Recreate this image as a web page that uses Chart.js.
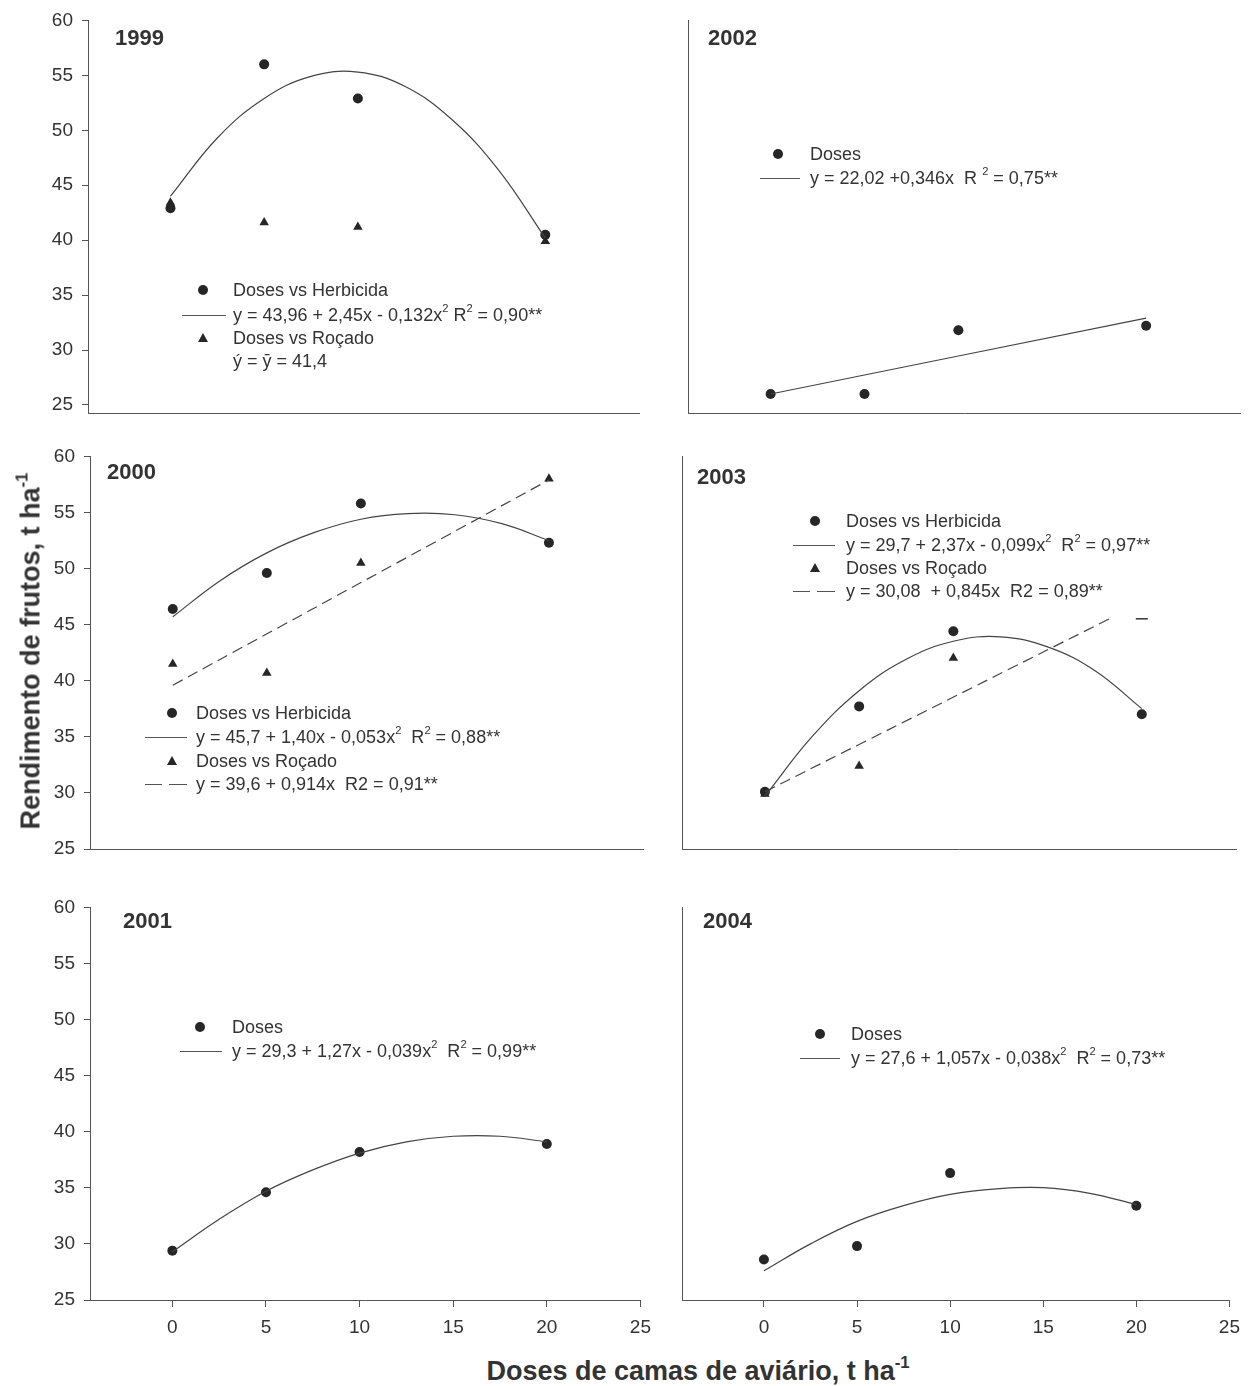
<!DOCTYPE html>
<html>
<head>
<meta charset="utf-8">
<script src="https://cdn.jsdelivr.net/npm/chart.js@4.4.0/dist/chart.umd.min.js"></script>
<style>
body{margin:0;background:#fff;width:1249px;height:1386px;position:relative;overflow:hidden;font-family:"Liberation Sans",Arial,sans-serif;color:#333}
.pan{position:absolute}
.t{position:absolute;font-size:18px;white-space:nowrap;line-height:1;transform:translateY(-50%)}
.yr{position:absolute;font-size:22px;font-weight:bold;white-space:nowrap;line-height:1;transform:translateY(-50%);color:#333}
sup{font-size:62%;vertical-align:top;position:relative;top:-3px}
.dot{position:absolute;width:10px;height:10px;border-radius:50%;background:#262626;transform:translate(-50%,-50%)}
.tri{position:absolute;width:0;height:0;border-left:5px solid transparent;border-right:5px solid transparent;border-bottom:9px solid #262626;transform:translate(-50%,-55%)}
.ln{position:absolute;height:0;border-top:1px solid #555}
.ax{position:absolute;font-weight:bold;font-size:27px;white-space:nowrap;line-height:1;color:#333}
</style>
</head>
<body>
<div id="wrap"></div>
<div class="ax" style="left:31px;top:651px;transform:translate(-50%,-50%) rotate(-90deg)">Rendimento de frutos, t ha<sup>-1</sup></div>
<div class="ax" style="left:698px;top:1371px;transform:translate(-50%,-50%)">Doses de camas de aviário, t ha<sup>-1</sup></div>
<script>
// eixos
var xTicks = [0, 5, 10, 15, 20, 25];
var yTicks = [25, 30, 35, 40, 45, 50, 55, 60];
var doses = [0, 5, 10, 20];
var fitX = [0, 2.5, 5, 7.5, 10, 12.5, 15, 17.5, 20];

// 1999
var herb1999 = [42.9, 56.0, 52.9, 40.5];
var roc1999 = [43.4, 41.6, 41.2, 39.9];
var fitHerb1999 = [44.0, 49.3, 52.9, 54.9, 55.3, 54.0, 51.0, 46.4, 40.2];
// 2000
var herb2000 = [46.4, 49.6, 55.8, 52.3];
var roc2000 = [41.5, 40.7, 50.5, 58.0];
var fitHerb2000 = [45.7, 48.9, 51.4, 53.2, 54.4, 54.9, 54.8, 54.0, 52.5];
var fitRocX2000 = [0, 20];
var fitRoc2000 = [39.6, 57.9];
// 2001
var doses2001 = [29.4, 34.6, 38.2, 38.9];
var fit2001 = [29.3, 32.2, 34.7, 36.6, 38.1, 39.1, 39.6, 39.6, 39.1];
// 2002
var doses2002 = [26.0, 26.0, 31.8, 32.2];
var fitX2002 = [0, 20];
var fit2002 = [26.0, 32.9];
// 2003
var herb2003 = [30.1, 37.7, 44.4, 37.0];
var roc2003 = [29.9, 32.4, 42.0];
var fitHerb2003 = [29.7, 35.0, 39.1, 41.9, 43.5, 43.9, 43.0, 40.9, 37.5];
var fitRocX2003 = [0, 18.4];
var fitRoc2003 = [30.1, 45.6];
var dashX2003 = [20];
var dash2003 = [45.5];
// 2004
var doses2004 = [28.6, 29.8, 36.3, 33.4];
var fit2004 = [27.6, 30.0, 32.0, 33.4, 34.4, 34.9, 35.0, 34.5, 33.5];

function pts(xs, ys) {
  var out = [];
  for (var i = 0; i < ys.length; i++) out.push({x: xs[i], y: ys[i]});
  return out;
}
function dots(xs, ys) {
  return {data: pts(xs, ys), pointStyle: 'circle', pointRadius: 5, backgroundColor: '#262626', borderColor: '#262626', borderWidth: 0};
}
function tris(xs, ys) {
  return {data: pts(xs, ys), pointStyle: 'triangle', pointRadius: 5.5, backgroundColor: '#262626', borderColor: '#262626', borderWidth: 0};
}
function curve(xs, ys, dash) {
  return {data: pts(xs, ys), showLine: true, pointRadius: 0, borderColor: '#444', borderWidth: 1.2, tension: 0.4, borderDash: dash ? [11, 6] : []};
}

// top row: x axis sits a little below the 25 tick
var panels = [
  {year: '1999', yx: 115, yy: 38, left: 0, top: 0, w: 660, h: 445, axisX: 88, right: 639, y60: 20, yBot: 413, yMin: 24.27, yLab: true, xLab: false,
   sets: [curve(fitX, fitHerb1999), dots(doses, herb1999), tris(doses, roc1999)]},
  {year: '2000', yx: 107, yy: 472, left: 0, top: 436, w: 660, h: 443, axisX: 90, right: 643, y60: 456, yBot: 849, yMin: 25, yLab: true, xLab: false,
   sets: [curve(fitX, fitHerb2000), curve(fitRocX2000, fitRoc2000, true), dots(doses, herb2000), tris(doses, roc2000)]},
  {year: '2001', yx: 123, yy: 921, left: 0, top: 887, w: 660, h: 460, axisX: 90, right: 643, y60: 907, yBot: 1300, yMin: 25, yLab: true, xLab: true,
   sets: [curve(fitX, fit2001), dots(doses, doses2001)]},
  {year: '2002', yx: 708, yy: 38, left: 660, top: 0, w: 589, h: 445, axisX: 688, right: 1240, y60: 20, yBot: 413, yMin: 24.27, yLab: false, xLab: false,
   sets: [curve(fitX2002, fit2002), dots(doses, doses2002)]},
  {year: '2003', yx: 697, yy: 477, left: 660, top: 436, w: 589, h: 443, axisX: 682, right: 1236, y60: 456, yBot: 849, yMin: 25, yLab: false, xLab: false,
   sets: [curve(fitX, fitHerb2003), curve(fitRocX2003, fitRoc2003, true), dots(doses, herb2003), tris(doses, roc2003),
          {data: pts(dashX2003, dash2003), pointStyle: 'line', pointRadius: 6, borderColor: '#333', borderWidth: 1.5}]},
  {year: '2004', yx: 703, yy: 921, left: 660, top: 887, w: 589, h: 460, axisX: 682, right: 1235, y60: 907, yBot: 1300, yMin: 25, yLab: false, xLab: true,
   sets: [curve(fitX, fit2004), dots(doses, doses2004)]}
];

var wrap = document.getElementById('wrap');

panels.forEach(function (p) {
  var div = document.createElement('div');
  div.className = 'pan';
  div.style.left = p.left + 'px';
  div.style.top = p.top + 'px';
  div.style.width = p.w + 'px';
  div.style.height = p.h + 'px';
  var cv = document.createElement('canvas');
  div.appendChild(cv);
  wrap.appendChild(div);

  var yr = document.createElement('div');
  yr.className = 'yr';
  yr.style.left = p.yx + 'px';
  yr.style.top = p.yy + 'px';
  yr.textContent = p.year;
  document.body.appendChild(yr);

  new Chart(cv, {
    type: 'scatter',
    data: {datasets: p.sets},
    options: {
      responsive: true,
      maintainAspectRatio: false,
      animation: false,
      events: [],
      layout: {padding: {top: p.y60 - p.top, right: p.left + p.w - p.right, left: 0, bottom: 0}},
      plugins: {legend: {display: false}, tooltip: {enabled: false}},
      scales: {
        x: {
          type: 'linear', min: -4.4, max: 25,
          afterBuildTicks: function (s) { s.ticks = xTicks.map(function (v) { return {value: v}; }); },
          afterFit: function (s) { s.height = p.top + p.h - p.yBot; },
          border: {display: true, color: '#555', width: 1},
          grid: {display: p.xLab, drawOnChartArea: false, drawTicks: true, tickLength: 7, color: '#555'},
          ticks: {display: p.xLab, padding: 9, color: '#333', font: {family: 'Liberation Sans', size: 19}}
        },
        y: {
          type: 'linear', min: p.yMin, max: 60,
          afterBuildTicks: function (s) { s.ticks = yTicks.map(function (v) { return {value: v}; }); },
          afterFit: function (s) { s.width = p.axisX - p.left; },
          border: {display: true, color: '#555', width: 1},
          grid: {display: p.yLab, drawOnChartArea: false, drawTicks: true, tickLength: 6, color: '#555'},
          ticks: {display: p.yLab, padding: 9, color: '#333', font: {family: 'Liberation Sans', size: 19}}
        }
      }
    }
  });
});

// legendas
var legends = [
  {sym: 'dot', sx: 203, y: 290, tx: 233, html: 'Doses vs Herbicida'},
  {sym: 'line', sx: 182, ex: 226, y: 315, tx: 233, html: 'y = 43,96 + 2,45x - 0,132x<sup>2</sup> R<sup>2</sup> = 0,90**'},
  {sym: 'tri', sx: 203, y: 338, tx: 233, html: 'Doses vs Roçado'},
  {sym: '', y: 361, tx: 233, html: 'ý = ȳ = 41,4'},

  {sym: 'dot', sx: 778, y: 154, tx: 810, html: 'Doses'},
  {sym: 'line', sx: 760, ex: 800, y: 178, tx: 810, html: 'y = 22,02 +0,346x&nbsp; R <sup>2</sup> = 0,75**'},

  {sym: 'dot', sx: 172, y: 713, tx: 196, html: 'Doses vs Herbicida'},
  {sym: 'line', sx: 145, ex: 187, y: 737, tx: 196, html: 'y = 45,7 + 1,40x - 0,053x<sup>2</sup>&nbsp; R<sup>2</sup> = 0,88**'},
  {sym: 'tri', sx: 172, y: 761, tx: 196, html: 'Doses vs Roçado'},
  {sym: 'dash', sx: 145, ex: 187, y: 784, tx: 196, html: 'y = 39,6 + 0,914x&nbsp; R2 = 0,91**'},

  {sym: 'dot', sx: 815, y: 521, tx: 846, html: 'Doses vs Herbicida'},
  {sym: 'line', sx: 793, ex: 835, y: 545, tx: 846, html: 'y = 29,7 + 2,37x - 0,099x<sup>2</sup>&nbsp; R<sup>2</sup> = 0,97**'},
  {sym: 'tri', sx: 815, y: 568, tx: 846, html: 'Doses vs Roçado'},
  {sym: 'dash', sx: 793, ex: 835, y: 591, tx: 846, html: 'y = 30,08&nbsp; + 0,845x&nbsp; R2 = 0,89**'},

  {sym: 'dot', sx: 200, y: 1027, tx: 232, html: 'Doses'},
  {sym: 'line', sx: 180, ex: 222, y: 1051, tx: 232, html: 'y = 29,3 + 1,27x - 0,039x<sup>2</sup>&nbsp; R<sup>2</sup> = 0,99**'},

  {sym: 'dot', sx: 820, y: 1034, tx: 851, html: 'Doses'},
  {sym: 'line', sx: 800, ex: 840, y: 1058, tx: 851, html: 'y = 27,6 + 1,057x - 0,038x<sup>2</sup>&nbsp; R<sup>2</sup> = 0,73**'}
];

legends.forEach(function (l) {
  if (l.sym === 'dot' || l.sym === 'tri') {
    var s = document.createElement('div');
    s.className = l.sym;
    s.style.left = l.sx + 'px';
    s.style.top = l.y + 'px';
    document.body.appendChild(s);
  } else if (l.sym === 'line') {
    var ln = document.createElement('div');
    ln.className = 'ln';
    ln.style.left = l.sx + 'px';
    ln.style.top = l.y + 'px';
    ln.style.width = (l.ex - l.sx) + 'px';
    document.body.appendChild(ln);
  } else if (l.sym === 'dash') {
    var mid = (l.sx + l.ex) / 2;
    [[l.sx, mid - 4], [mid + 3, l.ex]].forEach(function (seg) {
      var d = document.createElement('div');
      d.className = 'ln';
      d.style.left = seg[0] + 'px';
      d.style.top = l.y + 'px';
      d.style.width = (seg[1] - seg[0]) + 'px';
      document.body.appendChild(d);
    });
  }
  var t = document.createElement('div');
  t.className = 't';
  t.style.left = l.tx + 'px';
  t.style.top = l.y + 'px';
  t.innerHTML = l.html;
  document.body.appendChild(t);
});
</script>
</body>
</html>
